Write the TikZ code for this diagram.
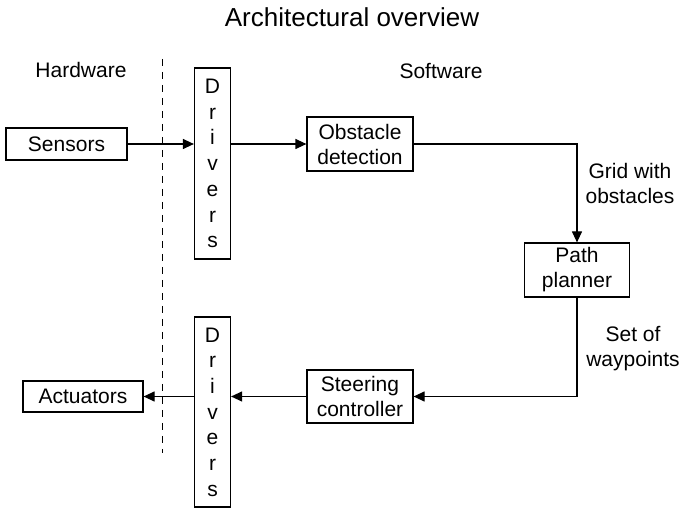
\documentclass[tikz,border=0pt]{standalone}
\usepackage{fontspec}
\setmainfont{Liberation Sans}
\usetikzlibrary{arrows.meta}
\newcommand\diagfont{\fontsize{21}{25}\selectfont}
\newcommand\titlefont{\fontsize{26}{30}\selectfont}
\newcommand\stackfont{\fontsize{21}{25.7}\selectfont}
\begin{document}
\begin{tikzpicture}[x=1pt,y=-1pt,
  box/.style={draw, line width=1.2pt, inner sep=0pt, align=center, font=\diagfont},
  drvbox/.style={draw, line width=1.2pt, inner sep=0pt, align=center, font=\stackfont,
    minimum width=36pt},
  conn/.style={line width=1.2pt, -{Triangle[length=11pt,width=10pt]}},
  divider/.style={line width=1pt, dash pattern=on 7pt off 6pt},
  lbl/.style={inner sep=0pt, align=center, font=\diagfont}]
\useasboundingbox (0,0) rectangle (681,510);

% headings
\node[inner sep=0pt, font=\titlefont, anchor=base] (title) at (352,27) {Architectural overview};
\node[lbl, anchor=base] (hw) at (81,78) {Hardware};
\node[lbl, anchor=base] (sw) at (441,79) {Software};

% hardware / software boundary
\coordinate (dtop) at (162,59);
\coordinate (dbot) at (162,453);
\draw[divider] (dtop) -- (dbot);

% blocks
\node[box, minimum width=121pt, minimum height=32pt] (sens) at (66.5,144) {Sensors};
\node[drvbox, minimum height=191pt] (drv1) at (212.5,163.5) {D\\r\\i\\v\\e\\r\\s};
\node[box, minimum width=106pt, minimum height=54pt] (obst) at (360,144) {Obstacle\\detection};
\node[box, minimum width=105pt, minimum height=54pt] (plan) at (577,270) {Path\\planner};
\node[box, minimum width=106pt, minimum height=53pt] (steer) at (360,396.5) {Steering\\controller};
\node[drvbox, minimum height=190pt] (drv2) at (212.5,412) {D\\r\\i\\v\\e\\r\\s};
\node[box, minimum width=120pt, minimum height=31pt] (act) at (83,396.5) {Actuators};

% data flow
\draw[conn] (sens.east) -- (sens.east -| drv1.west);
\draw[conn] (drv1.east |- obst.west) -- (obst.west);
\draw[conn] (obst.east) -| (plan.north);
\draw[conn] (plan.south) |- (steer.east);
\draw[conn] (steer.west) -- (steer.west -| drv2.east);
\draw[conn] (drv2.west |- act.east) -- (act.east);

% flow labels
\node[lbl] (grid) at (630,183) {Grid with\\obstacles};
\node[lbl] (wayp) at (633,349) {Set of\\waypoints};
\end{tikzpicture}
\end{document}
